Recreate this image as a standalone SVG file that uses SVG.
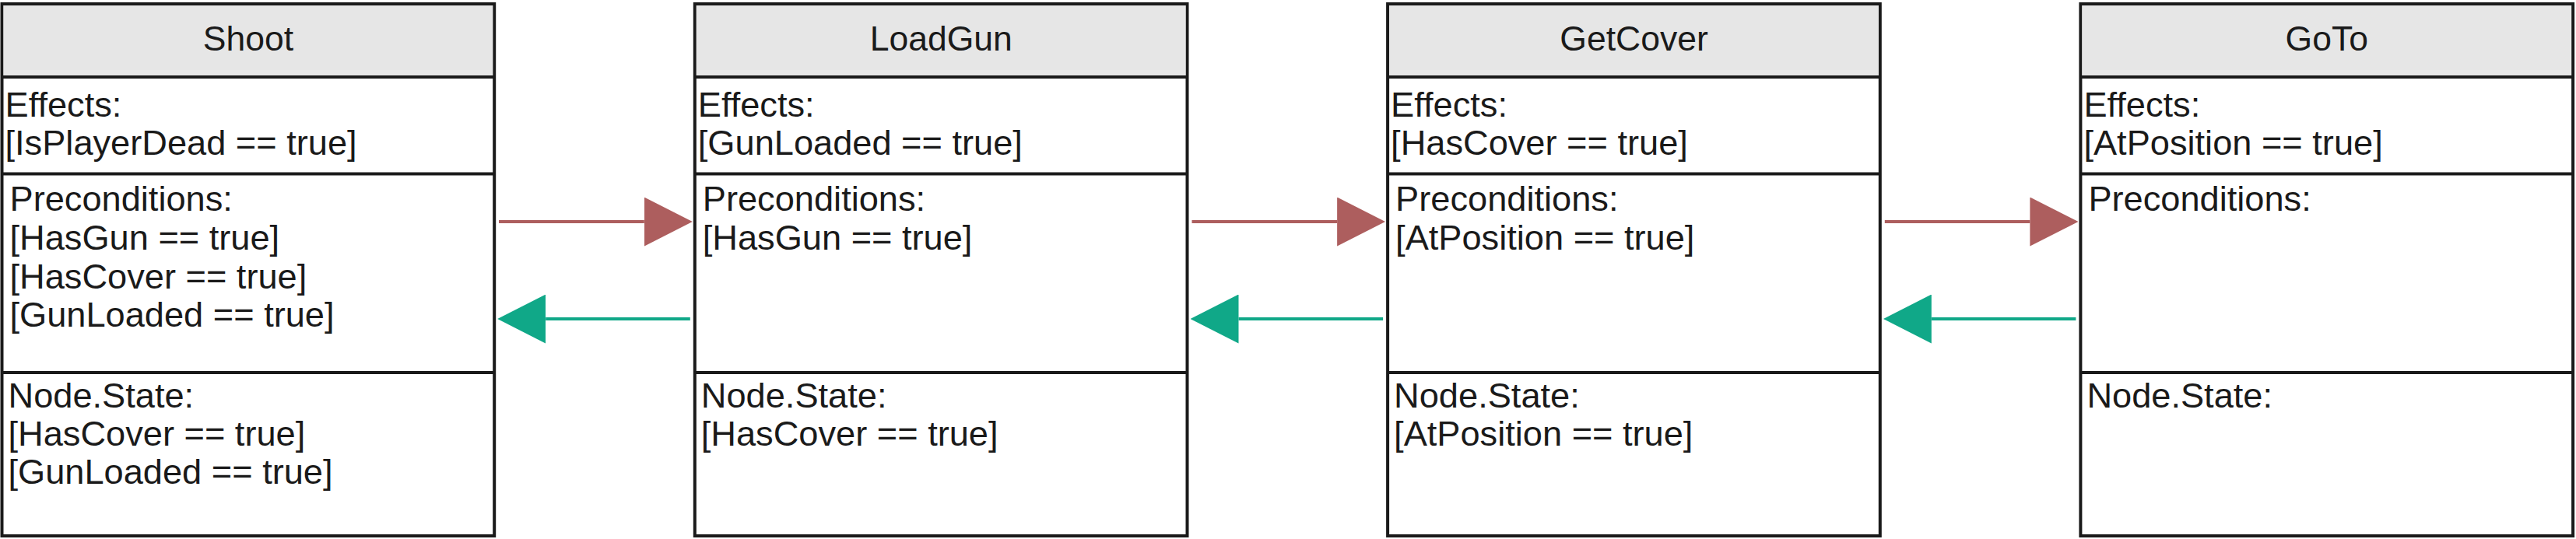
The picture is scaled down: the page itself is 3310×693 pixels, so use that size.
<svg xmlns="http://www.w3.org/2000/svg" width="3310" height="693" viewBox="0 0 3310 693">
<style>
.box{fill:#ffffff;stroke:#1a1a1a;stroke-width:4}
.hdr{fill:#e6e6e6;stroke:none}
.sep{stroke:#1a1a1a;stroke-width:4}
text{font-family:"Liberation Sans",Arial,sans-serif;font-size:45.2px;fill:#1a1a1a}
.title{text-anchor:middle;font-size:44.5px}
.red{stroke:#ad5e5e;stroke-width:4;fill:none}
.green{stroke:#10a888;stroke-width:4;fill:none}
</style>
<defs>
<marker id="ahRed" markerUnits="userSpaceOnUse" markerWidth="62" markerHeight="63" refX="0" refY="31.5" orient="auto" viewBox="0 0 62 63">
<path d="M0,0 L62,31.5 L0,63 Z" fill="#ad5e5e"/>
</marker>
<marker id="ahGreen" markerUnits="userSpaceOnUse" markerWidth="62" markerHeight="63" refX="0" refY="31.5" orient="auto" viewBox="0 0 62 63">
<path d="M0,0 L62,31.5 L0,63 Z" fill="#10a888"/>
</marker>
</defs>

<g id="node-shoot" transform="translate(2.5,0)">
<rect class="box" x="0" y="5" width="632.7" height="684"/>
<rect class="hdr" x="2" y="7" width="628.7" height="92"/>
<line class="sep" x1="0" y1="99" x2="632.7" y2="99"/>
<line class="sep" x1="0" y1="223.5" x2="632.7" y2="223.5"/>
<line class="sep" x1="0" y1="479" x2="632.7" y2="479"/>
<text class="title" x="316.4" y="65">Shoot</text>
<text x="4" y="149.5">Effects:</text>
<text x="4" y="199">[IsPlayerDead == true]</text>
<text x="10" y="271">Preconditions:</text>
<text x="10" y="321">[HasGun == true]</text>
<text x="10" y="370.5">[HasCover == true]</text>
<text x="10" y="420">[GunLoaded == true]</text>
<text x="8" y="523.5">Node.State:</text>
<text x="8" y="573">[HasCover == true]</text>
<text x="8" y="622">[GunLoaded == true]</text>
</g>

<g id="node-loadgun" transform="translate(892.8,0)">
<rect class="box" x="0" y="5" width="632.7" height="684"/>
<rect class="hdr" x="2" y="7" width="628.7" height="92"/>
<line class="sep" x1="0" y1="99" x2="632.7" y2="99"/>
<line class="sep" x1="0" y1="223.5" x2="632.7" y2="223.5"/>
<line class="sep" x1="0" y1="479" x2="632.7" y2="479"/>
<text class="title" x="316.4" y="65">LoadGun</text>
<text x="4" y="149.5">Effects:</text>
<text x="4" y="199">[GunLoaded == true]</text>
<text x="10" y="271">Preconditions:</text>
<text x="10" y="321">[HasGun == true]</text>
<text x="8" y="523.5">Node.State:</text>
<text x="8" y="573">[HasCover == true]</text>
</g>

<g id="node-getcover" transform="translate(1783.1,0)">
<rect class="box" x="0" y="5" width="632.7" height="684"/>
<rect class="hdr" x="2" y="7" width="628.7" height="92"/>
<line class="sep" x1="0" y1="99" x2="632.7" y2="99"/>
<line class="sep" x1="0" y1="223.5" x2="632.7" y2="223.5"/>
<line class="sep" x1="0" y1="479" x2="632.7" y2="479"/>
<text class="title" x="316.4" y="65">GetCover</text>
<text x="4" y="149.5">Effects:</text>
<text x="4" y="199">[HasCover == true]</text>
<text x="10" y="271">Preconditions:</text>
<text x="10" y="321">[AtPosition == true]</text>
<text x="8" y="523.5">Node.State:</text>
<text x="8" y="573">[AtPosition == true]</text>
</g>

<g id="node-goto" transform="translate(2673.4,0)">
<rect class="box" x="0" y="5" width="632.7" height="684"/>
<rect class="hdr" x="2" y="7" width="628.7" height="92"/>
<line class="sep" x1="0" y1="99" x2="632.7" y2="99"/>
<line class="sep" x1="0" y1="223.5" x2="632.7" y2="223.5"/>
<line class="sep" x1="0" y1="479" x2="632.7" y2="479"/>
<text class="title" x="316.4" y="65">GoTo</text>
<text x="4" y="149.5">Effects:</text>
<text x="4" y="199">[AtPosition == true]</text>
<text x="10" y="271">Preconditions:</text>
<text x="8" y="523.5">Node.State:</text>
</g>

<g id="connectors">
<line class="red" x1="641" y1="285" x2="827.8" y2="285" marker-end="url(#ahRed)"/>
<line class="red" x1="1531.5" y1="285" x2="1718.1" y2="285" marker-end="url(#ahRed)"/>
<line class="red" x1="2421.8" y1="285" x2="2608.4" y2="285" marker-end="url(#ahRed)"/>
<line class="green" x1="886.8" y1="410" x2="701.2" y2="410" marker-end="url(#ahGreen)"/>
<line class="green" x1="1777.1" y1="410" x2="1591.5" y2="410" marker-end="url(#ahGreen)"/>
<line class="green" x1="2667.4" y1="410" x2="2481.8" y2="410" marker-end="url(#ahGreen)"/>
</g>
</svg>
